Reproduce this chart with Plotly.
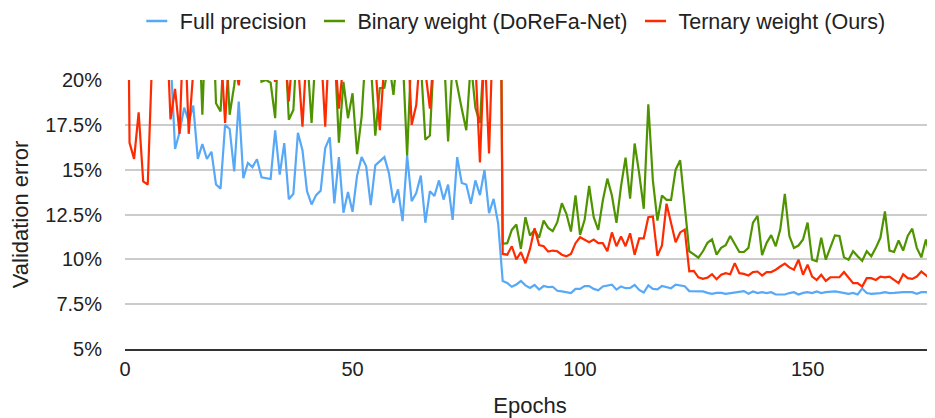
import plotly.graph_objects as go

# ---- data (validation error, %) for epochs 0..178 ----
full_precision = [
    40, 36, 33, 31, 29, 27, 26, 24.5, 23, 22,
    21.4, 16.15, 17.1, 18.46, 17.7, 18.57, 15.6, 16.43, 15.6, 16.0,
    14.17, 13.94, 17.5, 17.27, 14.9, 18.8, 14.52, 15.37, 15.14, 15.58,
    14.57, 14.52, 14.48, 17.19, 14.72, 16.48, 13.35, 13.66, 17.05, 16.08,
    13.8, 13.06, 13.58, 13.83, 16.2, 16.8, 13.12, 15.7, 12.6, 13.76,
    12.65, 14.67, 15.7, 15.19, 13.02, 15.24, 15.46, 15.7, 14.8, 13.15,
    13.9, 12.13, 15.78, 13.24, 13.7, 14.67, 12.04, 13.8, 13.53, 14.4,
    13.33, 14.17, 12.2, 15.7, 14.26, 14.17, 13.1, 14.4, 13.58, 14.98,
    12.57, 13.37, 12.0,
    8.79, 8.68, 8.47, 8.6, 8.79, 8.55, 8.41, 8.57, 8.31, 8.51,
    8.45, 8.47, 8.25, 8.21, 8.17, 8.12, 8.35, 8.35, 8.51, 8.51,
    8.35, 8.27, 8.49, 8.55, 8.59, 8.31, 8.49, 8.39, 8.41, 8.57,
    8.29, 8.15, 8.55, 8.35, 8.33, 8.51, 8.45, 8.39, 8.59, 8.54,
    8.5, 8.23, 8.22, 8.25, 8.21, 8.13, 8.08, 8.13, 8.13, 8.08,
    8.12, 8.13, 8.17, 8.23, 8.08, 8.21, 8.12, 8.17, 8.12, 8.17,
    8.04, 8.04, 8.04, 8.12, 8.17, 8.04, 8.13, 8.17, 8.12, 8.21,
    8.12, 8.17, 8.21, 8.21, 8.17, 8.13, 8.08, 8.13, 8.04, 8.37,
    8.12, 8.08, 8.08, 8.12, 8.17, 8.12, 8.13, 8.17, 8.17, 8.17,
    8.17, 8.08, 8.17, 8.17, 8.13, 8.1,
]

binary_weight = [
    35, 33, 32, 30, 30, 29, 28, 28, 27, 27,
    26, 26, 25, 25, 25, 25, 25, 18.06, 25, 26,
    18.7, 18.24, 23, 18.06, 19.7, 22, 23, 24, 23, 22,
    19.9, 20.0, 19.85, 17.87, 24, 23, 17.78, 18.33, 23, 22,
    21.5, 17.6, 22, 24, 23, 22, 22, 16.5, 19.9, 17.87,
    19.26, 15.87, 17.96, 22, 21, 16.9, 19.54, 19.57, 21, 19.17,
    22, 21.5, 15.78, 22, 23, 21, 16.67, 16.9, 22, 21,
    22, 16.57, 21, 19.6, 18.4, 17.2, 21, 18.45, 17.6, 22,
    21, 23, 45,
    10.87, 10.9, 11.64, 11.94, 10.58, 12.35, 11.33, 11.64, 11.2, 12.16,
    11.75, 11.57, 12.07, 13.13, 12.54, 11.55, 13.56, 11.36, 12.2, 14.09,
    12.35, 11.64, 13.28, 14.5, 13.56, 12.03, 14.07, 15.67, 13.38, 16.46,
    14.78, 12.82, 18.64, 14.4, 12.16, 13.56, 13.32, 13.32, 15.0, 15.52,
    13.0, 10.45, 10.28, 10.09, 10.45, 10.92, 11.11, 10.26, 10.64, 10.79,
    11.3, 10.83, 10.41, 10.41, 10.64, 12.05, 12.42, 10.23, 10.92, 11.35,
    10.73, 11.67, 13.65, 11.3, 10.64, 10.77, 11.11, 12.05, 9.98, 9.89,
    11.2, 9.98, 10.64, 11.33, 11.3, 10.11, 9.98, 10.45, 10.17, 9.92,
    10.45, 10.17, 10.64, 11.2, 12.67, 10.49, 10.41, 11.05, 10.49, 11.3,
    11.71, 10.64, 10.11, 11.11, 10.08, 12.8,
]

ternary_weight = [
    45, 16.5, 15.6, 18.2, 14.35, 14.17, 21.5, 25, 24, 24,
    17.8, 19.5, 17.0, 24, 17.0, 21, 24, 25, 23, 22,
    24, 22, 17.6, 22, 21, 19.7, 22, 23, 21, 22,
    24, 22, 21, 19.9, 23, 22, 18.8, 22, 21, 17.4,
    22, 23, 21, 22, 17.4, 23, 22, 18.4, 21, 22,
    23, 21, 22, 24, 22, 21, 17.2, 21, 23, 22,
    22, 21, 23, 17.5, 18.6, 22, 20.5, 18.4, 22, 21,
    23, 22, 24, 22, 21, 23, 22, 21, 15.4, 22,
    15.9, 24, 45,
    10.3, 10.26, 10.73, 10.0, 10.4, 9.78, 10.58, 11.73, 10.8, 10.73,
    10.43, 10.49, 10.45, 10.26, 10.17, 10.3, 10.9, 11.23, 11.08, 10.95,
    11.1, 10.9, 10.9, 10.45, 11.5, 10.73, 11.27, 10.73, 11.45, 10.26,
    11.17, 11.17, 12.35, 12.39, 10.2, 10.77, 13.1, 12.07, 10.95, 11.5,
    11.66, 9.33, 9.36, 9.0, 8.91, 8.98, 9.17, 8.89, 9.14, 9.23,
    9.17, 9.79, 9.23, 9.19, 9.1, 9.29, 9.32, 9.1, 9.29, 9.29,
    9.42, 9.6, 9.76, 9.55, 9.42, 9.98, 9.14, 9.7, 9.04, 8.85,
    9.14, 8.8, 9.0, 9.0, 9.0, 9.29, 8.95, 8.67, 8.67, 8.48,
    8.95, 8.95, 8.85, 9.04, 9.0, 9.04, 8.85, 8.67, 9.17, 8.95,
    8.91, 9.04, 9.32, 9.1, 8.91, 8.98,
]

epochs = list(range(len(full_precision)))

series_names = ["Full precision", "Binary weight (DoReFa-Net)", "Ternary weight (Ours)"]
series_values = [full_precision, binary_weight, ternary_weight]
series_colors = ["#57a9f7", "#4f9400", "#ff2b00"]

y_tick_values = [5, 7.5, 10, 12.5, 15, 17.5, 20]
y_tick_labels = ["5%", "7.5%", "10%", "12.5%", "15%", "17.5%", "20%"]
x_tick_values = [0, 50, 100, 150]

FONT = "Liberation Sans, Arial, Helvetica, sans-serif"
TXT = "#222222"

fig = go.Figure()
for name, vals, col in zip(series_names, series_values, series_colors):
    fig.add_trace(go.Scatter(
        x=epochs[:len(vals)], y=vals, mode="lines", name=name,
        line=dict(color=col, width=2.2), showlegend=False, hoverinfo="skip"))
# legend entries (short line samples)
for name, col in zip(series_names, series_colors):
    fig.add_trace(go.Scatter(
        x=[None], y=[None], mode="markers", name=name,
        marker=dict(symbol="line-ew-open", size=15, color=col,
                    line=dict(color=col, width=2.5))))

# The page body has an 8px margin, so the figure is sized to fit the window.
fig.update_layout(
    width=927, height=410,
    margin=dict(l=117, r=0, t=72, b=69, autoexpand=False),
    paper_bgcolor="white", plot_bgcolor="white",
    font=dict(family=FONT, size=20, color=TXT),
    showlegend=True,
    legend=dict(orientation="h", xref="container", yref="container",
                x=0.544, xanchor="center", y=0.968, yanchor="middle",
                font=dict(family=FONT, size=21.5, color=TXT),
                bgcolor="rgba(0,0,0,0)", itemsizing="trace", itemwidth=36),
    xaxis=dict(range=[0, 178], tickvals=x_tick_values, showgrid=False,
               zeroline=False, showline=True, linecolor="#333333", linewidth=2,
               ticks="outside", ticklen=1, tickcolor="rgba(0,0,0,0)",
               tickfont=dict(size=20, color=TXT),
               title=dict(text="Epochs", font=dict(size=22, color=TXT), standoff=22)),
    yaxis=dict(range=[5, 20], tickvals=y_tick_values, ticktext=y_tick_labels,
               showgrid=True, gridcolor="#cccccc", gridwidth=1.5, zeroline=False,
               showline=False,
               ticks="outside", ticklen=18, tickcolor="rgba(0,0,0,0)",
               tickfont=dict(size=20, color=TXT),
               title=dict(text="Validation error", font=dict(size=22, color=TXT), standoff=11)),
)

fig.write_html("out.html")
